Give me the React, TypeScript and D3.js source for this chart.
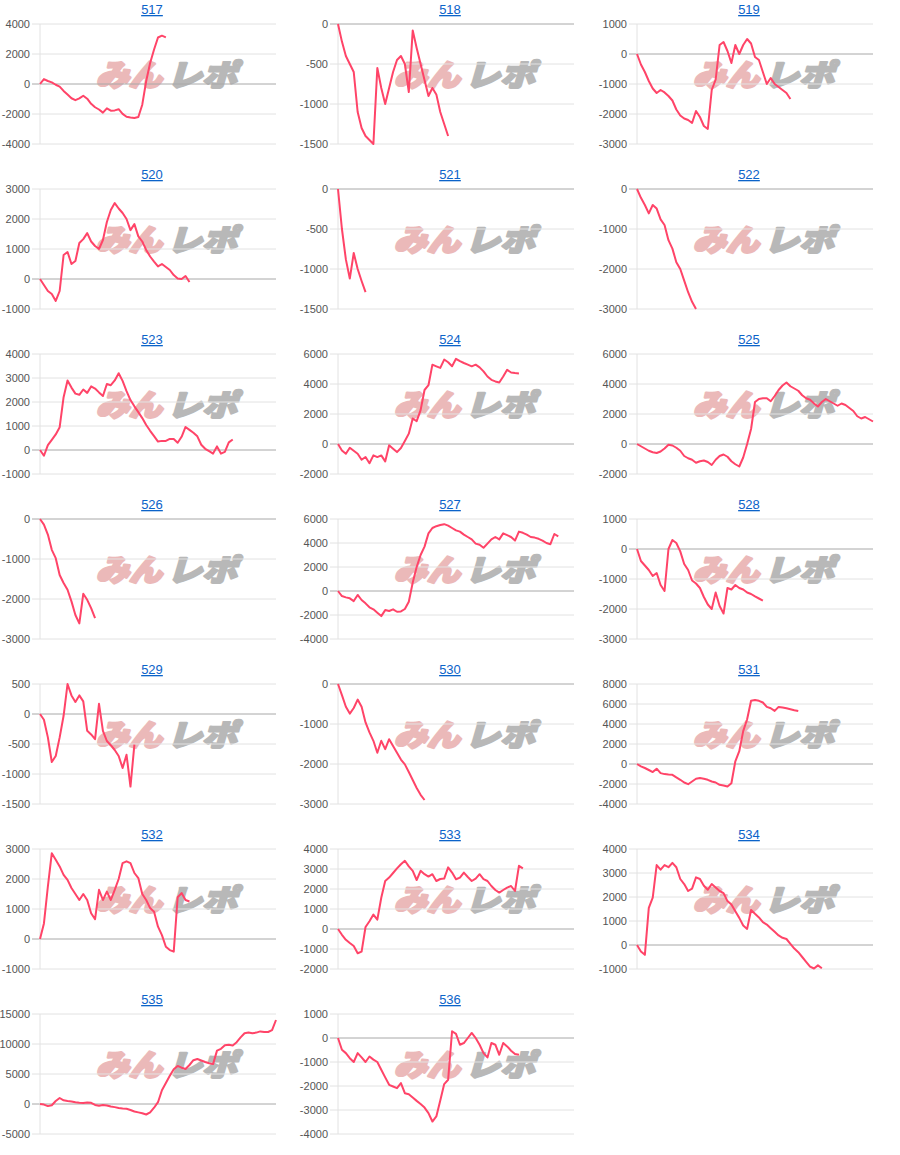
import React from 'react';
import * as d3 from 'd3';

const titles = ['517','518','519','520','521','522','523','524','525','526','527','528','529','530','531','532','533','534','535','536'];

const d517 = [0,330,200,110,-50,-170,-460,-700,-950,-1080,-960,-780,-980,-1320,-1550,-1700,-1910,-1620,-1780,-1760,-1680,-1990,-2180,-2230,-2270,-2200,-1380,200,1400,2300,3100,3220,3110];
const d518 = [0,-220,-400,-500,-600,-1100,-1300,-1400,-1450,-1500,-550,-800,-1000,-800,-600,-450,-400,-500,-850,-80,-300,-500,-700,-900,-800,-880,-1100,-1250,-1400];
const d519 = [0,-350,-600,-900,-1150,-1300,-1200,-1280,-1400,-1550,-1850,-2050,-2150,-2200,-2300,-1900,-2100,-2400,-2500,-1200,-850,300,400,100,-300,300,0,300,500,350,-100,-200,-600,-1000,-800,-1000,-1100,-1200,-1300,-1500];
const d520 = [0,-200,-400,-500,-730,-400,800,900,500,600,1200,1330,1530,1250,1100,1000,1300,1900,2300,2530,2350,2200,2000,1630,1830,1420,1250,970,750,580,420,500,400,300,130,20,0,100,-100];
const d521 = [0,-500,-880,-1120,-800,-1000,-1150,-1290];
const d522 = [0,-220,-400,-610,-400,-490,-760,-900,-1280,-1490,-1830,-2000,-2290,-2580,-2820,-3000];
const d523 = [0,-240,200,420,650,950,2200,2900,2600,2350,2300,2520,2380,2650,2560,2400,2250,2750,2700,2900,3200,2880,2450,2080,1820,1580,1330,1040,800,580,350,380,380,460,460,300,550,960,840,720,570,220,50,-50,-150,150,-150,-80,320,440];
const d524 = [0,-430,-650,-250,-450,-650,-1050,-870,-1280,-760,-870,-760,-1160,-90,-310,-540,-270,200,690,1700,1520,2260,3600,3920,5290,5180,5070,5630,5450,5180,5680,5520,5400,5290,5180,5290,5110,4840,4500,4280,4170,4100,4500,4950,4770,4730,4700];
const d525 = [0,-150,-300,-450,-550,-600,-500,-300,-50,-100,-250,-450,-800,-950,-1050,-1250,-1150,-1100,-1200,-1400,-1050,-800,-700,-850,-1150,-1350,-1500,-900,0,1000,2800,3000,3050,3050,2850,3200,3600,3900,4100,3850,3700,3550,3250,3050,2950,2700,2500,2800,3000,2850,2700,2550,2700,2600,2400,2200,1850,1700,1800,1650,1500];
const d526 = [0,-140,-390,-770,-980,-1400,-1600,-1770,-2060,-2400,-2610,-1870,-2020,-2230,-2480];
const d527 = [0,-420,-530,-610,-840,-330,-750,-1030,-1360,-1530,-1810,-2090,-1590,-1670,-1530,-1730,-1700,-1500,-900,700,2000,3000,3700,4800,5250,5400,5500,5570,5450,5250,5050,4950,4700,4500,4300,3950,3850,3600,3950,4300,4500,4300,4800,4650,4500,4200,4950,4850,4700,4500,4450,4350,4200,4000,3900,4750,4550];
const d528 = [0,-400,-550,-700,-900,-800,-1200,-1400,0,300,200,-80,-500,-700,-1050,-1150,-1300,-1600,-1850,-2000,-1450,-1900,-2150,-1300,-1350,-1200,-1300,-1350,-1450,-1500,-1580,-1650,-1720];
const d529 = [0,-95,-390,-800,-700,-390,-30,500,310,200,310,210,-280,-340,-420,170,-280,-450,-520,-600,-700,-900,-680,-1210,-510];
const d530 = [0,-280,-570,-740,-600,-390,-570,-960,-1210,-1420,-1720,-1420,-1630,-1380,-1550,-1720,-1890,-2010,-2200,-2400,-2600,-2770,-2900];
const d531 = [0,-240,-400,-600,-810,-470,-910,-1010,-1050,-1080,-1340,-1580,-1850,-2020,-1750,-1480,-1410,-1480,-1580,-1750,-1850,-2080,-2150,-2250,-1920,270,1280,3290,4470,6320,6390,6320,6150,5710,5580,5310,5710,5650,5580,5480,5380,5300];
const d532 = [0,520,1750,2860,2640,2420,2140,1970,1700,1500,1300,1500,1300,860,660,1640,1300,1580,1300,1640,2000,2530,2590,2530,2200,2030,1500,1300,1030,910,410,130,-260,-370,-420,1390,1530,1300,1250];
const d533 = [0,-290,-540,-700,-850,-1210,-1130,100,390,720,470,1560,2400,2570,2800,3030,3240,3410,3130,2910,2450,2910,2740,2620,2740,2400,2500,2520,3080,2820,2490,2570,2820,2600,2400,2520,2740,2490,2400,2150,1950,1820,1950,2070,2150,1900,3160,3030];
const d534 = [0,-270,-410,1550,1970,3330,3140,3330,3240,3420,3240,2750,2540,2250,2350,2820,2750,2470,2300,2540,2400,2250,2160,1830,1690,1410,1130,810,670,1460,1300,1150,950,850,700,550,400,300,250,50,-150,-300,-500,-700,-900,-980,-850,-970];
const d535 = [0,-100,-350,-200,500,1000,620,500,420,280,190,170,250,200,-150,-280,-150,-250,-420,-520,-650,-750,-800,-1000,-1250,-1400,-1540,-1750,-1390,-620,300,2300,3500,4700,5800,6350,6050,5830,6500,7300,7500,7250,7000,6800,6650,8900,9200,9800,9890,9750,10300,11100,11800,11900,11780,11900,12100,12000,12000,12300,14000];
const d536 = [0,-490,-630,-840,-1000,-630,-810,-1000,-770,-900,-1000,-1320,-1640,-1950,-2020,-2090,-1880,-2300,-2340,-2480,-2620,-2750,-2900,-3130,-3480,-3270,-2600,-1920,-1740,280,170,-280,-210,0,210,0,-280,-630,-810,-210,-280,-700,-210,-350,-530,-670,-700];

const series = [d517,d518,d519,d520,d521,d522,d523,d524,d525,d526,d527,d528,d529,d530,d531,d532,d533,d534,d535,d536];

const yMins = [-4000,-1500,-3000,-1000,-1500,-3000,-1000,-2000,-2000,-3000,-4000,-3000,-1500,-3000,-4000,-1000,-2000,-1000,-5000,-4000];
const yMaxs = [4000,0,1000,3000,0,0,4000,6000,6000,0,6000,1000,500,0,8000,3000,4000,4000,15000,1000];
const ySteps = [2000,500,1000,1000,500,1000,1000,2000,2000,1000,2000,1000,500,1000,2000,1000,1000,1000,5000,1000];

const xSlots = 60;

const COL_X = [0, 298, 597];
const ROW_H = 165;
const AXIS_OFF = 40;
const PLOT_W = 236;
const PLOT_TOP = 24;
const PLOT_H = 120;
const LINE_COLOR = '#ff4468';

function Panel({ idx }: { idx: number }) {
  const col = idx % 3;
  const row = Math.floor(idx / 3);
  const ox = COL_X[col];
  const oy = row * ROW_H;
  const x0 = ox + AXIS_OFF;
  const y0 = oy + PLOT_TOP;
  const x = d3.scaleLinear().domain([0, xSlots]).range([x0, x0 + PLOT_W]);
  const y = d3.scaleLinear().domain([yMins[idx], yMaxs[idx]]).range([y0 + PLOT_H, y0]);
  const ticks = d3.range(yMins[idx], yMaxs[idx] + ySteps[idx] / 2, ySteps[idx]);
  const line = d3.line<number>().x((_, i) => x(i)).y(v => y(v));
  return (
    <g>
      <a href="#">
        <text x={ox + 152} y={oy + 14} textAnchor="middle" fontSize={13} fill="#0b63c9" textDecoration="underline" fontFamily="Arial, 'Liberation Sans', sans-serif">{titles[idx]}</text>
      </a>
      <g fontFamily="'Noto Sans CJK JP', sans-serif" fontWeight={900} fontSize={30} fontStyle="italic" strokeLinejoin="round">
        <text x={x0 + 56} y={y0 + 62} fill="#ebb9b9" stroke="#ebb9b9" strokeWidth={2.6} textLength={66} lengthAdjust="spacingAndGlyphs">みん</text>
        <text x={x0 + 127} y={y0 + 62} fill="#b8b8b8" stroke="#b8b8b8" strokeWidth={2.2} textLength={70} lengthAdjust="spacingAndGlyphs">レポ</text>
      </g>
      {ticks.map(t => (
        <g key={t}>
          <line x1={x0 - 8} x2={x0 + PLOT_W} y1={y(t)} y2={y(t)} stroke={t === 0 ? '#a8a8a8' : '#e2e2e2'} strokeWidth={1} />
          <text x={x0 - 10} y={y(t) + 4} textAnchor="end" fontSize={11} fill="#555" fontFamily="Arial, 'Liberation Sans', sans-serif">{t}</text>
        </g>
      ))}
      <line x1={x0} x2={x0} y1={y0} y2={y0 + PLOT_H} stroke="#e2e2e2" strokeWidth={1} />
      <path d={line(series[idx]) || ''} fill="none" stroke={LINE_COLOR} strokeWidth={2} strokeLinejoin="round" />
    </g>
  );
}

export default function App() {
  return (
    <svg width={900} height={1155} style={{ position: 'absolute', left: 0, top: 0, background: '#fff' }}>
      <rect width={900} height={1155} fill="#fff" />
      {series.map((_, i) => <Panel key={i} idx={i} />)}
    </svg>
  );
}
